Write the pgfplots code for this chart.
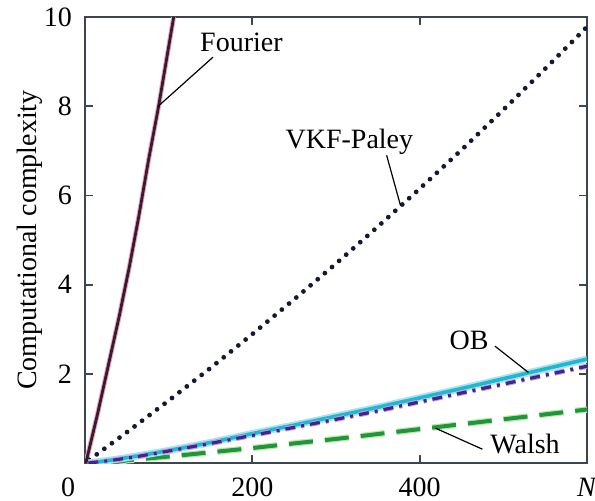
\documentclass[border=0pt]{standalone}
\usepackage{pgfplots}
\pgfplotsset{compat=1.18}
\usepackage{pgfplotstable}
\usepackage{fontspec}
\setmainfont{Liberation Serif}
\definecolor{axc}{RGB}{60,70,80}
\definecolor{fou}{RGB}{60,25,45}
\definecolor{fouh}{RGB}{230,165,195}
\definecolor{vkf}{RGB}{20,25,50}
\definecolor{obc}{RGB}{30,185,205}
\definecolor{obh}{RGB}{175,225,245}
\definecolor{pur}{RGB}{60,40,140}
\definecolor{purh}{RGB}{205,155,225}
\definecolor{wal}{RGB}{30,150,60}
\definecolor{walh}{RGB}{195,232,175}
\pgfplotstableread{
N y
1 0
15 1.1
28 2.2
41 3.3
53 4.4
64 5.5
76 6.8
88 8
97 9
106 10
}\fourier
\pgfplotstableread{
N y
5 0.07
50 0.69
100 1.40
150 2.13
200 2.89
250 3.67
300 4.47
350 5.30
400 6.15
450 7.02
500 7.92
550 8.84
600 9.78
}\vkf
\pgfplotstableread{
N y
4 0
16 0.027
32 0.067
64 0.162
100 0.28
150 0.46
200 0.66
250 0.85
300 1.05
350 1.25
400 1.46
450 1.67
500 1.89
550 2.11
600 2.33
}\ob
\pgfplotstableread{
N y
4 0
32 0.06
64 0.15
100 0.27
150 0.44
200 0.62
250 0.80
300 0.98
350 1.17
400 1.37
450 1.57
500 1.77
550 1.97
600 2.17
}\purp
\pgfplotstableread{
N y
30 0
50 0.06
100 0.145
150 0.24
200 0.335
250 0.44
300 0.54
350 0.65
400 0.76
450 0.87
500 0.98
550 1.09
600 1.20
}\walsh
\begin{document}
\begin{tikzpicture}
\begin{axis}[
  scale only axis, width=251pt, height=223pt,
  xmin=0, xmax=600, ymin=0, ymax=10,
  font=\fontsize{14}{16.5}\selectfont,
  /pgf/number format/assume math mode=true,
  axis line style={axc, line width=0.9pt},
  tick style={axc, line width=0.9pt},
  tick align=inside, major tick length=4pt,
  xtick={200,400,600}, xticklabels={200,400,\textit{N}},
  extra x ticks={0}, extra x tick labels={0},
  extra x tick style={major tick length=0pt, xticklabel style={xshift=-8.5pt}},
  ytick={2,4,6,8,10},
  xticklabel style={yshift=-4pt},
  yticklabel style={xshift=-3pt},
  ylabel={Computational complexity},
  ylabel style={at={(axis description cs:-0.07,0.5)}, anchor=south},
  clip=true,
]
\coordinate (SW) at (rel axis cs:0,0);
\coordinate (NE) at (rel axis cs:1,1);
\addplot[fouh, line width=2.4pt, no markers] table[x=N,y=y] {\fourier};
\addplot[fou, line width=1.4pt, no markers] table[x=N,y=y] {\fourier};
\addplot[vkf, line width=2.4pt, line cap=round, dash pattern=on 0pt off 4.7pt, no markers] table[x=N,y=y] {\vkf};
\addplot[walh, line width=3.2pt, dash pattern=on 12pt off 6pt, no markers] table[x=N,y=y] {\walsh};
\addplot[wal, line width=2pt, dash pattern=on 12pt off 6pt, no markers] table[x=N,y=y] {\walsh};
\addplot[obh, line width=3.6pt, no markers] table[x=N,y=y] {\ob};
\addplot[obc, line width=1.8pt, no markers] table[x=N,y=y] {\ob};
\addplot[purh, line width=2.6pt, dash pattern=on 5pt off 3pt on 1.5pt off 3pt, no markers] table[x=N,y=y] {\purp};
\addplot[pur, line width=1.6pt, dash pattern=on 5pt off 3pt on 1.5pt off 3pt, no markers] table[x=N,y=y] {\purp};
\node at (axis cs:187,9.44) {Fourier};
\draw[black, line width=0.6pt] (axis cs:153,9.10) -- (axis cs:87.5,8.0);
\node at (axis cs:316,7.2) {VKF-Paley};
\draw[black, line width=0.6pt] (axis cs:360.5,6.9) -- (axis cs:377,5.78);
\node at (axis cs:459,2.76) {OB};
\draw[black, line width=0.6pt] (axis cs:490,2.62) -- (axis cs:530,2.03);
\node at (axis cs:526,0.43) {Walsh};
\draw[black, line width=0.6pt] (axis cs:475,0.31) -- (axis cs:419,0.78);
\end{axis}
\pgfresetboundingbox
\path ([shift={(-42.5pt,-18.5pt)}]SW) rectangle ([shift={(4pt,8.5pt)}]NE);
\end{tikzpicture}
\end{document}
